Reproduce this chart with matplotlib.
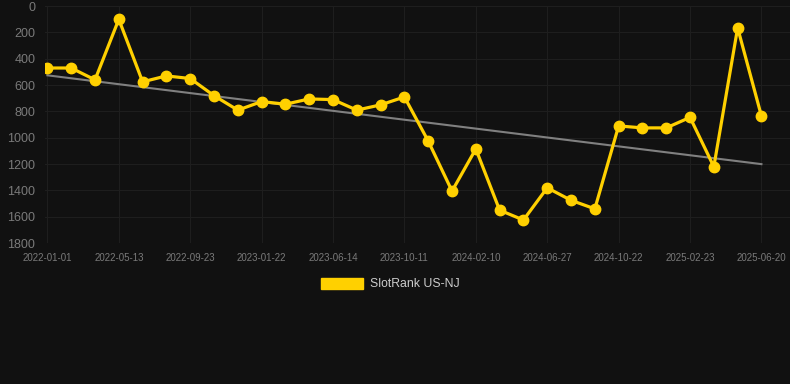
import matplotlib.pyplot as plt
import matplotlib.patches as mpatches
import numpy as np

plt.rcParams['font.family'] = ['Liberation Sans', 'DejaVu Sans']

# -------------------------------------------------------------------------------------------------------------------- #
# DATA

ranks = [470, 470, 560, 100, 575, 530, 550, 680, 790, 725,
         745, 705, 710, 790, 750, 690, 1025, 1405, 1085, 1550,
         1625, 1380, 1475, 1540, 910, 925, 925, 845, 1220, 165,
         835]
tick_labels = ['2022-01-01', '2022-05-13', '2022-09-23', '2023-01-22', '2023-06-14', '2023-10-11',
               '2024-02-10', '2024-06-27', '2024-10-22', '2025-02-23', '2025-06-20']
series_name = 'SlotRank US-NJ'

# -------------------------------------------------------------------------------------------------------------------- #
# PLOT

bg = '#111111'
x = np.arange(len(ranks))
trend = np.polyval(np.polyfit(x, ranks, 1), x)

fig = plt.figure(figsize=(7.9, 3.84), dpi=100, facecolor=bg)
ax = fig.add_axes([0.057, 0.367, 0.943, 0.617], facecolor=bg)

ax.plot(x, trend, color='#808080', lw=1.5, zorder=2)
ax.plot(x, ranks, color='#FFD000', lw=2.3, marker='o', ms=7.5, zorder=3)

ax.set_ylim(1800, 0)
ax.set_yticks(range(0, 1801, 200))
ax.set_xlim(-0.1, 31.2)
ax.set_xticks(x[::3])
ax.set_xticklabels(tick_labels)

ax.grid(True, color='#1e1e1e', lw=0.8)
ax.set_axisbelow(True)
for s in ax.spines.values():
    s.set_visible(False)
ax.tick_params(axis='y', length=0, pad=7, labelsize=9, labelcolor='#7a7a7a')
ax.tick_params(axis='x', length=0, pad=7, labelsize=7, labelcolor='#7a7a7a')

handle = mpatches.Patch(color='#FFD000', label=series_name)
fig.legend(handles=[handle], loc='center', bbox_to_anchor=(0.494, 0.26), frameon=False,
           handlelength=3.4, handleheight=1.0, handletextpad=0.6, fontsize=8.8, labelcolor='#cccccc')

plt.savefig('out.png', dpi=100, facecolor=bg)
